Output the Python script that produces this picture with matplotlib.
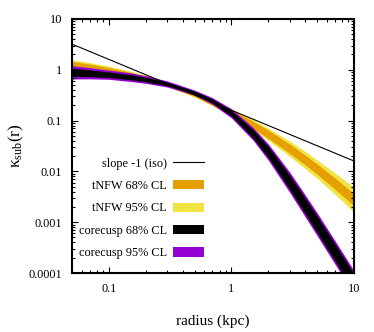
import numpy as np
import matplotlib
matplotlib.use("Agg")
import matplotlib.pyplot as plt
from matplotlib.lines import Line2D
from matplotlib.patches import Patch
from matplotlib.ticker import FixedLocator, FixedFormatter, NullFormatter, LogLocator

plt.rcParams['font.family'] = ['Liberation Serif', 'DejaVu Serif']
plt.rcParams['mathtext.fontset'] = 'custom'
plt.rcParams['mathtext.rm'] = 'Liberation Serif'

# radios donde se leyeron las bandas (kpc)
radios = [0.05, 0.07, 0.1, 0.15, 0.2, 0.3, 0.5, 0.7, 1, 1.5, 2, 3, 4, 5, 7, 10]

# tNFW: valor central y semiancho de las bandas (dex)
tnfw_mid = [1.318, 1.175, 1.012, 0.826, 0.695, 0.519, 0.324, 0.223, 0.144,
            0.0826, 0.0537, 0.0278, 0.01675, 0.01107, 0.00574, 0.00276]
tnfw_w68 = [0.045, 0.042, 0.04, 0.035, 0.03, 0.03, 0.035, 0.045, 0.055,
            0.07, 0.08, 0.09, 0.095, 0.10, 0.11, 0.12]
tnfw_w95 = [0.08, 0.072, 0.065, 0.057, 0.05, 0.045, 0.05, 0.06, 0.075,
            0.10, 0.12, 0.15, 0.17, 0.18, 0.21, 0.245]

# corecusp: valor central y semiancho (dex)
cc_mid = [0.891, 0.855, 0.800, 0.716, 0.643, 0.525, 0.355, 0.243, 0.139,
          0.0550, 0.0240, 0.00603, 0.00209, 0.000912, 0.000254, 0.0000646]
cc_w68 = [0.08, 0.065, 0.055, 0.05, 0.045, 0.035, 0.03, 0.04, 0.055,
          0.085, 0.11, 0.14, 0.155, 0.165, 0.17, 0.175]
cc_w95 = [0.13, 0.11, 0.09, 0.085, 0.075, 0.06, 0.05, 0.065, 0.09,
          0.125, 0.16, 0.20, 0.215, 0.225, 0.23, 0.235]

# linea de pendiente -1 (extremos)
iso_r = [0.05, 10]
iso_k = [3.2, 0.016]

xticks = [0.1, 1, 10]
xlabels = ['0.1', '1', '10']
yticks = [1e-4, 1e-3, 1e-2, 1e-1, 1, 10]
ylabels = ['0.0001', '0.001', '0.01', '0.1', '1', '10']

c_orange = '#E69F00'
c_yellow = '#F0E442'
c_purple = '#9400D3'

r = np.array(radios)


def banda(mid, w):
    mid = np.array(mid)
    w = np.array(w)
    return mid * 10**(-w), mid * 10**w


fig = plt.figure(figsize=(3.74, 3.32), dpi=100)
ax = fig.add_axes([0.1925, 0.1777, 0.7540, 0.7651])

lo, hi = banda(tnfw_mid, tnfw_w95)
ax.fill_between(r, lo, hi, color=c_yellow, lw=0)
lo, hi = banda(tnfw_mid, tnfw_w68)
ax.fill_between(r, lo, hi, color=c_orange, lw=0)
lo, hi = banda(cc_mid, cc_w95)
ax.fill_between(r, lo, hi, color=c_purple, lw=0)
lo, hi = banda(cc_mid, cc_w68)
ax.fill_between(r, lo, hi, color='black', lw=0)

ax.plot(iso_r, iso_k, color='black', lw=0.8)

ax.set_xscale('log')
ax.set_yscale('log')
ax.set_xlim(0.05, 10)
ax.set_ylim(1e-4, 10)

ax.xaxis.set_major_locator(FixedLocator(xticks))
ax.xaxis.set_major_formatter(FixedFormatter(xlabels))
ax.xaxis.set_minor_locator(LogLocator(base=10, subs=np.arange(2, 10)))
ax.xaxis.set_minor_formatter(NullFormatter())
ax.yaxis.set_major_locator(FixedLocator(yticks))
ax.yaxis.set_major_formatter(FixedFormatter(ylabels))
ax.yaxis.set_minor_locator(LogLocator(base=10, subs=np.arange(2, 10)))
ax.yaxis.set_minor_formatter(NullFormatter())

ax.tick_params(which='both', direction='in', top=True, right=True, width=0.8)
ax.tick_params(which='major', length=4, labelsize=8.8, pad=7)
ax.tick_params(which='minor', length=2)
for s in ax.spines.values():
    s.set_linewidth(1.5)

ax.set_xlabel('radius (kpc)', fontsize=11, labelpad=14)
ax.set_ylabel(r'$\mathrm{κ_{sub}(r)}$', fontsize=12.5, labelpad=2)

handles = [
    Line2D([], [], color='black', lw=0.8),
    Patch(facecolor=c_orange, edgecolor='none'),
    Patch(facecolor=c_yellow, edgecolor='none'),
    Patch(facecolor='black', edgecolor='none'),
    Patch(facecolor=c_purple, edgecolor='none'),
]
labels = ['slope -1 (iso)', 'tNFW 68% CL', 'tNFW 95% CL',
          'corecusp 68% CL', 'corecusp 95% CL']
ax.legend(handles, labels, loc='lower right', bbox_to_anchor=(0.485, 0.035),
          frameon=False, markerfirst=False, fontsize=8.8,
          handlelength=2.5, handleheight=0.8, handletextpad=0.5,
          labelspacing=0.85, borderaxespad=0)

fig.savefig('out.png', dpi=100)
